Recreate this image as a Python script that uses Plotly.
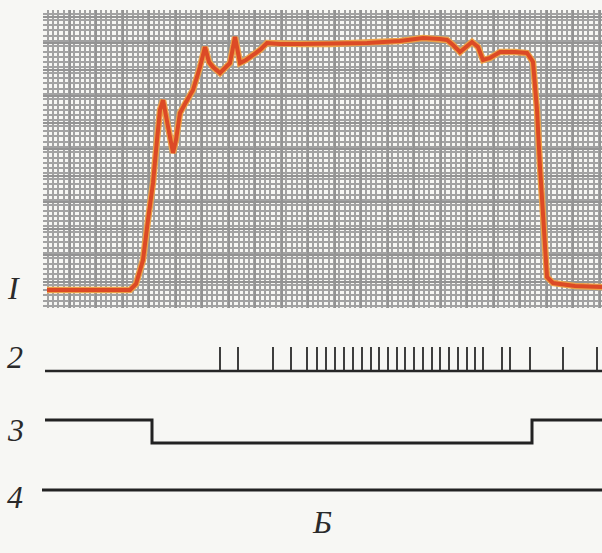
import plotly.graph_objects as go

W, H = 602, 553

# Trace I (recorded curve on graph paper): time (px units) and amplitude (px above baseline)
t1 = [47, 130, 136, 143, 148, 153, 157, 160, 163, 168, 173, 176, 180, 186, 193, 200, 205,
      209, 213, 220, 226, 230, 235, 240, 246, 253, 260, 267, 280, 300, 330, 367, 400, 423,
      440, 447, 453, 460, 466, 472, 478, 483, 490, 500, 515, 527, 533, 537, 540, 544, 547,
      553, 575, 602]
a1 = [0, 0, 6, 30, 70, 107, 150, 180, 190, 165, 137, 150, 177, 188, 200, 223, 243,
      228, 223, 217, 223, 227, 253, 227, 230, 235, 240, 247, 246, 246, 246, 247, 249, 252,
      251, 250, 245, 238, 243, 248, 243, 230, 232, 238, 238, 237, 228, 180, 123, 50, 13,
      7, 4, 3]

# Trace 2: spike times
spike_times = [220, 238, 273, 291, 307, 317, 326, 335, 344, 353, 362, 371, 379, 388, 397,
               405, 414, 423, 432, 440, 449, 458, 467, 475, 483, 502, 510, 530, 563, 597]
line2_span = [45, 602]

# Trace 3: stimulus step (1 = high, 0 = low)
t3 = [45, 152, 532, 602]
v3 = [1, 0, 1, 1]

# Trace 4: flat line
t4 = [42, 602]
v4 = [0, 0]

row_labels = ["I", "2", "3", "4"]
panel_label = "Б"

def py(px):
    return (H - px) / H

def px_x(px):
    return px / W

fig = go.Figure()

# --- Trace I
fig.add_trace(go.Scatter(x=t1, y=a1, mode="lines", xaxis="x2", yaxis="y",
                         line=dict(color="#eba24a", width=6.5), hoverinfo="skip"))
fig.add_trace(go.Scatter(x=t1, y=a1, mode="lines", xaxis="x2", yaxis="y",
                         line=dict(color="#dc4a26", width=4), hoverinfo="skip"))

# --- Trace 2 baseline + spikes
sx, sy = [], []
for s in spike_times:
    sx += [s, s, None]
    sy += [0, 1, None]
fig.add_trace(go.Scatter(x=line2_span, y=[0, 0], mode="lines", xaxis="x", yaxis="y2",
                         line=dict(color="#262626", width=2.6), hoverinfo="skip"))
fig.add_trace(go.Scatter(x=sx, y=sy, mode="lines", xaxis="x", yaxis="y2",
                         line=dict(color="#2a2a2a", width=1.8), hoverinfo="skip"))

# --- Trace 3
fig.add_trace(go.Scatter(x=t3, y=v3, mode="lines", line_shape="hv", xaxis="x", yaxis="y3",
                         line=dict(color="#222222", width=3), hoverinfo="skip"))

# --- Trace 4
fig.add_trace(go.Scatter(x=t4, y=v4, mode="lines", xaxis="x", yaxis="y4",
                         line=dict(color="#222222", width=3), hoverinfo="skip"))

hidden = dict(showticklabels=False, ticks="", showline=False, zeroline=False)

grid_top, grid_bot, grid_left = 10, 308, 43
cell = 5.3

fig.update_layout(
    width=W, height=H,
    margin=dict(l=0, r=0, t=0, b=0),
    paper_bgcolor="#f7f7f4", plot_bgcolor="#f7f7f4",
    showlegend=False,
    xaxis=dict(domain=[0, 1], range=[0, W], showgrid=False, **hidden),
    xaxis2=dict(domain=[grid_left / W, 1], range=[grid_left, W], anchor="y",
                showgrid=True, gridcolor="#939393", gridwidth=2, tick0=grid_left, dtick=cell * 5,
                minor=dict(showgrid=True, gridcolor="#a2a2a2", gridwidth=2, dtick=cell),
                **hidden),
    yaxis=dict(domain=[py(grid_bot), py(grid_top)], range=[290 - grid_bot, 290 - grid_top],
               anchor="x2", showgrid=True, gridcolor="#939393", gridwidth=2,
               tick0=290 - grid_bot, dtick=cell * 5,
               minor=dict(showgrid=True, gridcolor="#a2a2a2", gridwidth=2, dtick=cell),
               **hidden),
    yaxis2=dict(domain=[py(375), py(340)], range=[-4 / 24, 31 / 24], anchor="x",
                showgrid=False, **hidden),
    yaxis3=dict(domain=[py(450), py(410)], range=[-7 / 23, 33 / 23], anchor="x",
                showgrid=False, **hidden),
    yaxis4=dict(domain=[py(500), py(480)], range=[-1, 1], anchor="x",
                showgrid=False, **hidden),
)

label_pos = [(13, 288), (15, 357), (15, 430), (15, 497)]
for txt, (lx, ly) in zip(row_labels, label_pos):
    fig.add_annotation(x=px_x(lx), y=py(ly), xref="paper", yref="paper", text="<i>" + txt + "</i>",
                       showarrow=False, xanchor="center", yanchor="middle",
                       font=dict(family="Liberation Serif", size=32, color="#2a2a2a"))
fig.add_annotation(x=px_x(322), y=py(522), xref="paper", yref="paper",
                   text="<i>" + panel_label + "</i>",
                   showarrow=False, xanchor="center", yanchor="middle",
                   font=dict(family="Liberation Serif", size=32, color="#2a2a2a"))

fig.write_html("out.html",
               config={"displayModeBar": False, "staticPlot": True},
               post_script="document.body.style.margin='0';document.body.style.background='#f7f7f4';")
